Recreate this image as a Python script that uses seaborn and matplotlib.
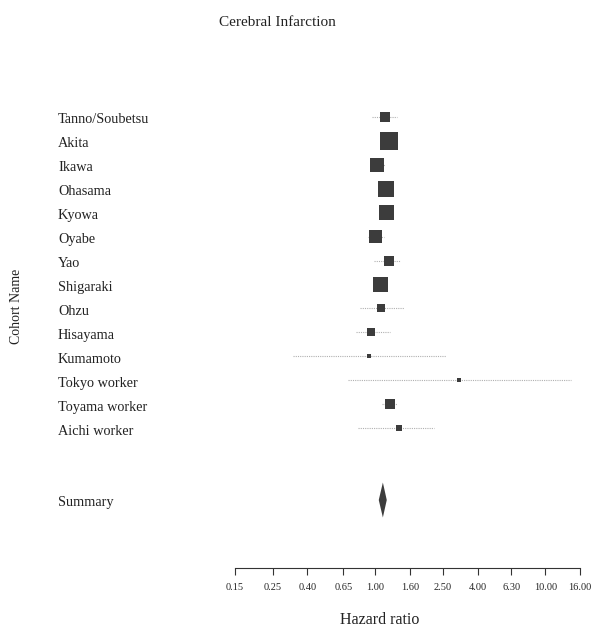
import matplotlib
matplotlib.use('Agg')
import matplotlib.pyplot as plt
import matplotlib.transforms as mtransforms
import numpy as np
import pandas as pd
import seaborn as sns

# data
cohorts = ['Tanno/Soubetsu', 'Akita', 'Ikawa', 'Ohasama', 'Kyowa', 'Oyabe', 'Yao',
           'Shigaraki', 'Ohzu', 'Hisayama', 'Kumamoto', 'Tokyo worker',
           'Toyama worker', 'Aichi worker']
hr = [1.14, 1.21, 1.03, 1.16, 1.17, 1.01, 1.21, 1.07, 1.08, 0.95, 0.92, 3.11, 1.22, 1.38]
ci_low = [0.96, 1.10, 0.93, 1.05, 1.06, 0.91, 0.99, 0.97, 0.82, 0.77, 0.33, 0.69, 1.10, 0.79]
ci_high = [1.34, 1.33, 1.14, 1.28, 1.29, 1.12, 1.40, 1.18, 1.47, 1.22, 2.61, 14.2, 1.35, 2.23]
weight = [5.3, 17.1, 10.4, 13.5, 11.9, 8.9, 5.3, 11.9, 3.4, 3.4, 0.8, 0.8, 5.3, 1.9]

summary_hr = 1.11
summary_low = 1.05
summary_high = 1.17

ticks = [0.15, 0.25, 0.40, 0.65, 1.00, 1.60, 2.50, 4.00, 6.30, 10.00, 16.00]
tick_labels = ['0.15', '0.25', '0.40', '0.65', '1.00', '1.60', '2.50', '4.00',
               '6.30', '10.00', '16.00']

df = pd.DataFrame({'cohort': cohorts, 'hr': hr, 'lo': ci_low, 'hi': ci_high,
                   'weight': weight})
df['row'] = np.arange(1, len(df) + 1)
summary_row = len(df) + 3

sns.set_style('white')
plt.rcParams['font.family'] = ['Liberation Serif', 'DejaVu Serif']

fig = plt.figure(figsize=(6.0, 6.31), dpi=100)
ax = fig.add_axes([235 / 600, 63 / 631, 345 / 600, 475 / 631])
ax.set_xscale('log')

# confidence intervals, faint dotted
ax.hlines(df['row'], df['lo'], df['hi'], colors='#b0b0b0', linestyles=(0, (1, 1)),
          linewidth=0.8, zorder=1)

# weighted boxes
sns.scatterplot(data=df, x='hr', y='row', size='weight', sizes=(8, 168),
                marker='s', color='#3c3c3c', edgecolor='none', legend=False,
                ax=ax, zorder=2)

# summary diamond
h = 0.73
ax.fill([summary_low, summary_hr, summary_high, summary_hr],
        [summary_row, summary_row - h, summary_row, summary_row + h],
        color='#3c3c3c', linewidth=0, zorder=2)

ax.set_xlim(ticks[0], ticks[-1])
ax.set_ylim(19.84, 0)
ax.set_xticks(ticks)
ax.set_xticklabels(tick_labels, fontsize=7.5)
ax.minorticks_off()
ax.tick_params(axis='x', direction='out', length=5, width=0.8, color='#333333',
               pad=6, bottom=True)
ax.set_yticks([])
ax.set_xlabel('')
ax.set_ylabel('')
for s in ['top', 'left', 'right']:
    ax.spines[s].set_visible(False)
ax.spines['bottom'].set_color('#333333')
ax.spines['bottom'].set_linewidth(0.8)

# cohort labels on the left
trans = mtransforms.blended_transform_factory(fig.transFigure, ax.transData)
for name, r in zip(df['cohort'], df['row']):
    ax.text(58 / 600, r + 0.12, name, transform=trans, ha='left', va='center',
            fontsize=10.3, color='#222222')
ax.text(58 / 600, summary_row + 0.12, 'Summary', transform=trans, ha='left',
        va='center', fontsize=10.3, color='#222222')

fig.text(277 / 600, 1 - 23 / 631, 'Cerebral Infarction', ha='center',
         va='center', fontsize=11, color='#222222')
fig.text(380 / 600, 1 - 620 / 631, 'Hazard ratio', ha='center', va='center',
         fontsize=11.5, color='#222222')
fig.text(17 / 600, 1 - 306 / 631, 'Cohort Name', ha='center', va='center',
         rotation=90, fontsize=10, color='#222222')

plt.savefig('out.png', dpi=100, facecolor='white')
